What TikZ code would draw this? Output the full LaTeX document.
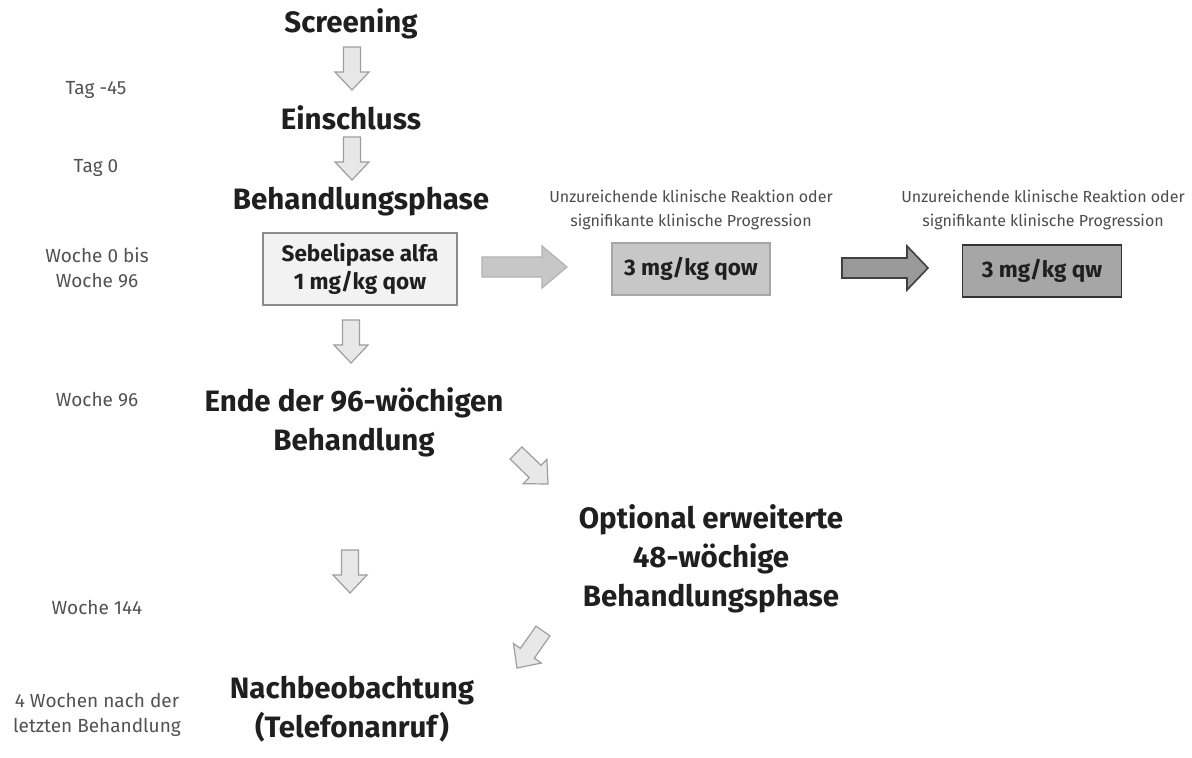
\documentclass[tikz,border=0pt]{standalone}
\usepackage{fontspec}
\setmainfont{Fira Sans}
\begin{document}
\begin{tikzpicture}[x=1pt,y=-1pt,
  title/.style={font=\fontsize{29.5}{39}\selectfont\bfseries, text=black!88, align=center, inner sep=0pt},
  side/.style={font=\fontsize{19}{25.5}\selectfont, text=black!68, align=center, inner sep=0pt},
  note/.style={font=\fontsize{16}{24}\selectfont, text=black!70, align=center, inner sep=0pt},
  dose/.style={font=\fontsize{22.5}{28}\selectfont\bfseries, text=black!88, align=center, draw, line width=1.2pt},
  lightarrow/.style={fill=black!9, draw=black!38, line width=1.2pt, line join=miter},
  midarrow/.style={fill=black!22, draw=black!30, line width=1.2pt, line join=miter},
  darkarrow/.style={fill=black!40, draw=black!75, line width=1.6pt, line join=miter}]
\newcommand\blk[8]{%
  \pgfmathsetmacro\blkA{atan2(-(#5-#3),#4-#2)}%
  \pgfmathsetmacro\blkL{veclen(#4-#2,#5-#3)}%
  \pgfmathsetmacro\blkS{\blkL-#8}%
  \begin{scope}[shift={(#2,#3)},rotate=\blkA]
    \draw[#1] (0,-#6) -- (\blkS,-#6) -- (\blkS,-#7) -- (\blkL,0) -- (\blkS,#7) -- (\blkS,#6) -- (0,#6) -- cycle;
  \end{scope}}
\useasboundingbox (0,0) rectangle (1192,758);
\fill[white] (0,0) rectangle (1192,758);

% left labels
\node[side] (t1) at (96,90) {Tag -45};
\node[side] (t2) at (96,168) {Tag 0};
\node[side] (t3) at (97,268) {Woche 0 bis\\Woche 96};
\node[side] (t4) at (97,400) {Woche 96};
\node[side] (t5) at (97,607) {Woche 144};
\node[side] (t6) at (97,715) {4 Wochen nach der\\letzten Behandlung};

% main column
\node[title] (scr) at (351,24) {Screening};
\node[title] (ein) at (351,118) {Einschluss};
\node[title] (beh) at (361,202) {Behandlungsphase};
\node[dose, fill=black!5, draw=black!45, minimum width=194pt, minimum height=72pt] (seb) at (360,269) {Sebelipase alfa\\1 mg/kg qow};
\node[title] (ende) at (354,422) {Ende der 96-wöchigen\\Behandlung};
\node[title] (opt) at (711,559) {Optional erweiterte\\48-wöchige\\Behandlungsphase};
\node[title] (nach) at (352,709) {Nachbeobachtung\\(Telefonanruf)};

% dose escalation
\node[note] (n1) at (691,210) {Unzureichende klinische Reaktion oder\\signifikante klinische Progression};
\node[dose, fill=black!22, draw=black!35, minimum width=158pt, minimum height=52pt] (d1) at (691,269) {3 mg/kg qow};
\node[note] (n2) at (1043,210) {Unzureichende klinische Reaktion oder\\signifikante klinische Progression};
\node[dose, fill=black!35, draw=black!80, line width=1.6pt, minimum width=159pt, minimum height=52pt] (d2) at (1042,271) {3 mg/kg qw};

% block arrows
\blk{lightarrow}{352}{47}{352}{90}{8.5}{17}{18}
\blk{lightarrow}{352}{137}{352}{180}{8.5}{17}{18}
\blk{lightarrow}{351}{320}{351}{363}{8.5}{17}{18}
\blk{lightarrow}{350}{550}{350}{593}{8.5}{17}{18}
\blk{lightarrow}{516}{453}{548}{484}{8.5}{17}{18}
\blk{lightarrow}{543}{631}{517}{668}{8.5}{17}{18}
\blk{midarrow}{482}{267}{567}{267}{10}{21}{25}
\blk{darkarrow}{842}{268}{928}{268}{10}{22}{21}
\end{tikzpicture}
\end{document}
